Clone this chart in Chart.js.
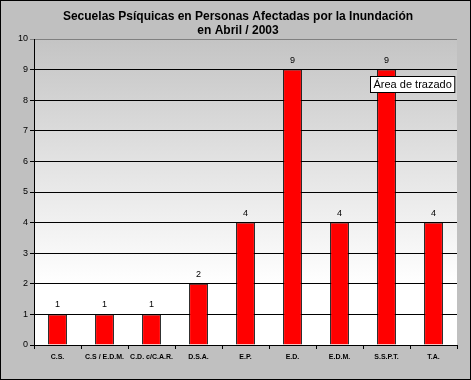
<!DOCTYPE html>
<html>
<head>
<meta charset="utf-8">
<script src="https://cdn.jsdelivr.net/npm/chart.js@4/dist/chart.umd.min.js"></script>
<style>
  html, body { margin: 0; padding: 0; background: #c0c0c0; }
  #wrap { width: 471px; height: 380px; }
</style>
</head>
<body>
<div id="wrap"><canvas id="chart" width="471" height="380"></canvas></div>
<script>
const categories = ['C.S.', 'C.S / E.D.M.', 'C.D. c/C.A.R.', 'D.S.A.', 'E.P.', 'E.D.', 'E.D.M.', 'S.S.P.T.', 'T.A.'];
const values = [1, 1, 1, 2, 4, 9, 4, 9, 4];
const yTicks = [0, 1, 2, 3, 4, 5, 6, 7, 8, 9, 10];
const titleLines = ['Secuelas Psíquicas en Personas Afectadas por la Inundación', 'en Abril / 2003'];
const hintText = 'Área de trazado';

const FONT = "'Liberation Sans', Arial, sans-serif";

// background, plot gradient, title
const backdrop = {
  id: 'backdrop',
  beforeDraw(chart) {
    const c = chart.ctx, a = chart.chartArea;
    c.save();
    c.fillStyle = '#c0c0c0';
    c.fillRect(0, 0, chart.width, chart.height);
    c.strokeStyle = '#000';
    c.lineWidth = 1;
    c.strokeRect(0.5, 0.5, chart.width - 1, chart.height - 1);
    const g = c.createLinearGradient(0, a.top, 0, a.bottom);
    g.addColorStop(0, '#c4c4c4');
    g.addColorStop(0.45, '#e6e6e6');
    g.addColorStop(0.8, '#ffffff');
    g.addColorStop(1, '#ffffff');
    c.fillStyle = g;
    c.fillRect(a.left, a.top, a.right - a.left, a.bottom - a.top);
    c.fillStyle = '#000';
    c.font = 'bold 12px ' + FONT;
    c.textAlign = 'center';
    c.textBaseline = 'middle';
    c.fillText(titleLines[0], 238, 17);
    c.fillText(titleLines[1], 238, 31);
    c.restore();
  }
};

// value labels above the bars + the "Área de trazado" hint
const labels = {
  id: 'labels',
  afterDatasetsDraw(chart) {
    const c = chart.ctx;
    const meta = chart.getDatasetMeta(0);
    c.save();
    c.fillStyle = '#000';
    c.font = '9px ' + FONT;
    c.textAlign = 'center';
    c.textBaseline = 'bottom';
    meta.data.forEach((bar, i) => {
      c.fillText(String(values[i]), bar.x, bar.y - 5);
    });
    const b = meta.data[7];
    const y = chart.scales.y.getPixelForValue(8.5);
    c.font = '11px ' + FONT;
    const w = c.measureText(hintText).width + 6;
    const x0 = Math.round(b.x - 17) + 0.5, y0 = Math.round(y - 9) + 0.5;
    c.fillStyle = '#fff';
    c.fillRect(x0, y0, w, 16);
    c.strokeStyle = '#000';
    c.lineWidth = 1;
    c.strokeRect(x0, y0, w, 16);
    c.fillStyle = '#000';
    c.textAlign = 'left';
    c.textBaseline = 'middle';
    c.fillText(hintText, x0 + 3, y0 + 8.5);
    c.restore();
  }
};

new Chart(document.getElementById('chart').getContext('2d'), {
  type: 'bar',
  data: {
    labels: categories,
    datasets: [{
      data: values,
      backgroundColor: '#ff0000',
      borderColor: '#000000',
      borderWidth: 1,
      barPercentage: 0.4,
      categoryPercentage: 1
    }]
  },
  options: {
    responsive: false,
    animation: false,
    layout: { padding: { left: 0, top: 39, right: 14, bottom: 0 } },
    plugins: {
      legend: { display: false },
      title: { display: false },
      tooltip: { enabled: false }
    },
    scales: {
      x: {
        afterFit: s => { s.height = 35; },
        grid: { drawOnChartArea: false, color: '#000', tickLength: 4, offset: true },
        border: { color: '#000', width: 1 },
        ticks: { color: '#000', font: { family: FONT, size: 7, weight: 'bold' }, padding: 4, maxRotation: 0, autoSkip: false }
      },
      y: {
        min: 0,
        max: 10,
        afterFit: s => { s.width = 34; },
        afterBuildTicks: s => { s.ticks = yTicks.map(v => ({ value: v })); },
        grid: { color: ctx => (ctx.tick && ctx.tick.value === 10 ? '#808080' : '#000'), tickLength: 4 },
        border: { color: '#000', width: 1 },
        ticks: { color: '#000', font: { family: FONT, size: 9 }, padding: 2 }
      }
    }
  },
  plugins: [backdrop, labels]
});
</script>
</body>
</html>
